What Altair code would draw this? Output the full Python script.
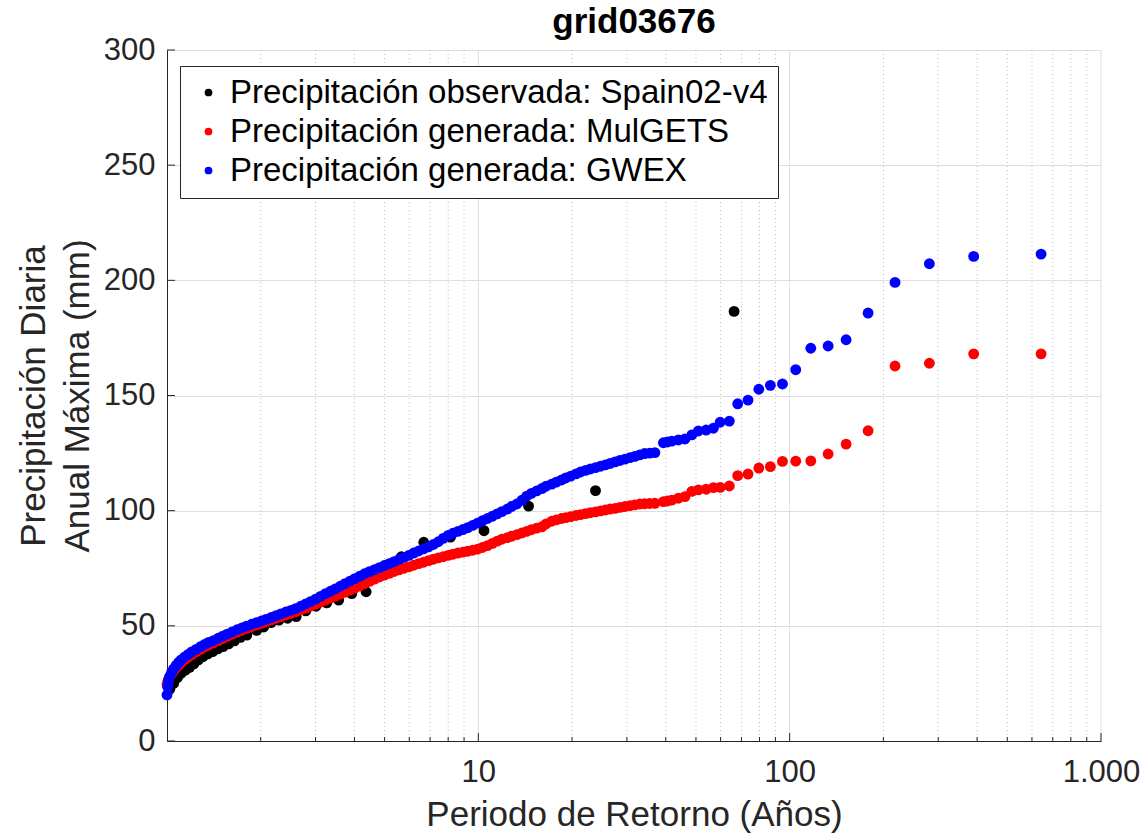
import altair as alt
import pandas as pd

# ---------------- data ----------------
series = [
    "Precipitación observada: Spain02-v4",
    "Precipitación generada: MulGETS",
    "Precipitación generada: GWEX",
]
colores = ["#000000", "#ff0000", "#0000ff"]

# observed annual maxima (return period in years, precipitation in mm)
periodo_obs = [1.021, 1.050, 1.080, 1.112, 1.146, 1.182, 1.220, 1.261, 1.305, 1.352,
               1.402, 1.456, 1.514, 1.578, 1.647, 1.722, 1.805, 1.94, 2.045, 2.16,
               2.29, 2.44, 2.60, 2.79, 3.01, 3.26, 3.56, 3.92, 4.36, 4.91,
               5.66, 6.68, 8.14, 10.43, 14.5, 23.79, 66.29]
precip_obs = [22.5, 25.0, 27.5, 29.5, 30.8, 32.0, 33.5, 35.2, 36.6, 37.8,
              38.8, 40.0, 41.0, 42.2, 43.5, 45.0, 46.0, 48.0, 49.5, 51.4,
              52.5, 53.3, 54.0, 56.5, 58.5, 60.0, 61.2, 64.0, 64.8, 72.0,
              80.0, 86.3, 88.5, 91.3, 102.0, 108.7, 186.5]

# simulated series (same return periods for both generators)
periodo_sim = [1.000, 1.005, 1.01, 1.02, 1.035, 1.05, 1.07, 1.09, 1.11, 1.14,
               1.17, 1.20, 1.24, 1.28, 1.32, 1.36, 1.41, 1.46, 1.51, 1.56,
               1.62, 1.68, 1.74, 1.80, 1.87, 1.94, 2.01, 2.08, 2.16, 2.24,
               2.32, 2.41, 2.50, 2.59, 2.69, 2.79, 2.89, 3.00, 3.11, 3.23,
               3.35, 3.47, 3.60, 3.73, 3.87, 4.01, 4.16, 4.31, 4.47, 4.64,
               4.81, 4.99, 5.17, 5.36, 5.56, 5.77, 5.98, 6.20, 6.43, 6.67,
               6.92, 7.17, 7.44, 7.71, 8.00, 8.29, 8.60, 8.92, 9.25, 9.59,
               9.94, 10.3, 10.7, 11.1, 11.5, 11.9, 12.4, 12.8, 13.3, 13.8,
               14.3, 14.8, 15.4, 16.0, 16.5, 17.2, 17.8, 18.5, 19.1, 19.8,
               20.6, 21.3, 22.1, 22.9, 23.8, 24.7, 25.6, 26.5, 27.5, 28.5,
               29.6, 30.7, 31.8, 33.0, 34.2, 35.5, 36.9, 39.3, 40.5, 41.8,
               43.9, 46.1, 48.5, 50.9, 53.9, 56.9, 59.8, 64.0, 68.1, 73.5,
               79.6, 86.7, 94.8, 104.6, 116.9, 132.9, 151.8, 178.6, 218.0, 281.0,
               390.0, 642.0]

precip_mulgets = [24.5, 25.5, 26.5, 27.8, 29.2, 30.5, 31.8, 32.9, 34.0, 35.3,
                  36.4, 37.5, 38.7, 39.8, 40.8, 41.7, 42.6, 43.6, 44.5, 45.4,
                  46.4, 47.3, 48.1, 48.9, 49.7, 50.4, 51.1, 51.8, 52.6, 53.3,
                  54.0, 54.7, 55.4, 56.1, 56.9, 57.7, 58.5, 59.4, 60.3, 61.2,
                  62.0, 62.9, 63.8, 64.6, 65.5, 66.4, 67.3, 68.3, 69.3, 70.3,
                  71.2, 72.0, 72.8, 73.6, 74.3, 75.0, 75.6, 76.3, 77.0, 77.6,
                  78.3, 78.9, 79.5, 80.0, 80.6, 81.1, 81.6, 82.0, 82.4, 82.8,
                  83.3, 84.0, 84.8, 85.8, 86.8, 87.6, 88.3, 88.9, 89.6, 90.3,
                  91.0, 91.7, 92.4, 93.0, 94.2, 95.4, 96.0, 96.6, 97.0, 97.4,
                  97.9, 98.3, 98.7, 99.1, 99.5, 99.9, 100.3, 100.7, 101.0, 101.4,
                  101.8, 102.2, 102.5, 102.9, 103.0, 103.1, 103.2, 103.9, 104.2, 104.6,
                  105.4, 106.1, 108.4, 109.0, 109.3, 110.0, 110.1, 110.7, 115.2, 115.9,
                  118.5, 119.1, 121.4, 121.5, 121.6, 124.6, 128.9, 134.7, 162.8, 164.0,
                  168.1, 168.1]

precip_gwex = [20.0, 23.5, 26.0, 28.0, 29.8, 31.3, 32.8, 34.1, 35.2, 36.5,
               37.6, 38.7, 39.8, 40.9, 41.9, 42.8, 43.6, 44.6, 45.5, 46.4,
               47.4, 48.3, 49.1, 49.9, 50.7, 51.4, 52.1, 52.8, 53.6, 54.4,
               55.2, 56.0, 56.7, 57.5, 58.5, 59.5, 60.5, 61.6, 62.8, 64.0,
               65.0, 66.0, 67.2, 68.3, 69.4, 70.5, 71.6, 72.6, 73.5, 74.4,
               75.3, 76.2, 77.0, 77.9, 78.8, 79.7, 80.6, 81.6, 82.5, 83.4,
               84.3, 85.3, 86.5, 88.0, 89.3, 90.2, 91.0, 91.8, 92.6, 93.6,
               94.6, 95.6, 96.6, 97.6, 98.6, 99.6, 100.7, 101.8, 102.9, 104.5,
               106.3, 107.5, 108.6, 109.6, 110.6, 111.5, 112.4, 113.3, 114.2, 115.0,
               116.0, 116.8, 117.5, 118.1, 118.7, 119.3, 119.9, 120.5, 121.2, 121.8,
               122.4, 123.0, 123.6, 124.2, 124.8, 125.0, 125.2, 129.5, 129.8, 130.2,
               130.7, 131.1, 132.9, 134.6, 135.0, 135.8, 138.4, 138.9, 146.4, 148.0,
               152.7, 154.4, 155.0, 161.2, 170.5, 171.5, 174.2, 185.8, 199.1, 207.2,
               210.4, 211.4]

# axis tick values
x_major = [10, 100, 1000]
x_minor = [2, 3, 4, 5, 6, 7, 8, 9, 20, 30, 40, 50, 60, 70, 80, 90,
           200, 300, 400, 500, 600, 700, 800, 900]
y_ticks = [0, 50, 100, 150, 200, 250, 300]

# ---------------- build tables ----------------
df = pd.concat([
    pd.DataFrame({"T": periodo_obs, "P": precip_obs, "serie": series[0], "k": 0}),
    pd.DataFrame({"T": periodo_sim, "P": precip_mulgets, "serie": series[1], "k": 1}),
    pd.DataFrame({"T": periodo_sim, "P": precip_gwex, "serie": series[2], "k": 2}),
], ignore_index=True)

FONT = "Liberation Sans"
W, H = 934, 691
xscale = alt.Scale(type="log", domain=[1, 1000], nice=False)
yscale = alt.Scale(domain=[0, 300], nice=False, zero=False)

x_axis = alt.Axis(values=x_major, title="Periodo de Retorno (Años)",
                  labelExpr="datum.value >= 1000 ? '1.000' : '' + datum.value",
                  grid=False, tickSize=0, labelPadding=16, titlePadding=10,
                  labelFontSize=31, titleFontSize=35, labelFlush=False)
y_axis = alt.Axis(values=y_ticks, title=["Precipitación Diaria", "Anual Máxima (mm)"],
                  grid=True, gridColor="#dedede", gridWidth=1,
                  tickSize=0, labelPadding=12, titlePadding=8,
                  labelFontSize=31, titleFontSize=35, titleLineHeight=44)

def X():
    return alt.X("T:Q", scale=xscale, axis=x_axis)

def Y():
    return alt.Y("P:Q", scale=yscale, axis=y_axis)

minor_grid = alt.Chart(pd.DataFrame({"T": x_minor})).mark_rule(
    color="#b8b8b8", strokeDash=[1, 3], strokeWidth=1
).encode(x=X())

major_grid = alt.Chart(pd.DataFrame({"T": x_major})).mark_rule(
    color="#dedede", strokeWidth=1
).encode(x=X())

points = alt.Chart(df).mark_circle(size=118, opacity=1).encode(
    x=X(),
    y=Y(),
    color=alt.Color("serie:N",
                    scale=alt.Scale(domain=series, range=colores),
                    legend=alt.Legend(orient="none", legendX=13, legendY=16, title=None,
                                      labelFontSize=33, labelFont=FONT, labelColor="black",
                                      labelLimit=900, symbolType="circle", symbolSize=60,
                                      strokeColor="#262626", fillColor="white",
                                      padding=10, rowPadding=5, symbolOffset=2,
                                      labelOffset=5)),
    order=alt.Order("k:Q"),
)

xt_major = alt.Chart(pd.DataFrame({"T": x_major})).mark_rule(color="#262626").encode(
    x=X(), y=alt.value(H), y2=alt.value(H - 8))
xt_minor = alt.Chart(pd.DataFrame({"T": x_minor})).mark_rule(color="#262626").encode(
    x=X(), y=alt.value(H), y2=alt.value(H - 4))
yt = alt.Chart(pd.DataFrame({"P": y_ticks})).mark_rule(color="#262626").encode(
    y=Y(), x=alt.value(0), x2=alt.value(8))

chart = alt.layer(minor_grid, major_grid, points, xt_major, xt_minor, yt).properties(
    width=W, height=H,
    title=alt.TitleParams("grid03676", fontSize=35, fontWeight="bold", font=FONT,
                          color="black", anchor="middle", offset=-6),
    padding={"left": 167, "top": 50, "right": 47, "bottom": 96},
    autosize=alt.AutoSizeParams(type="none"),
).configure_view(stroke=None).configure_axis(
    domainColor="#262626", domainWidth=1, labelColor="#262626", titleColor="#262626",
    labelFont=FONT, titleFont=FONT, titleFontWeight="normal",
)

chart.save("out.html", embed_options={"renderer": "svg", "actions": False})
